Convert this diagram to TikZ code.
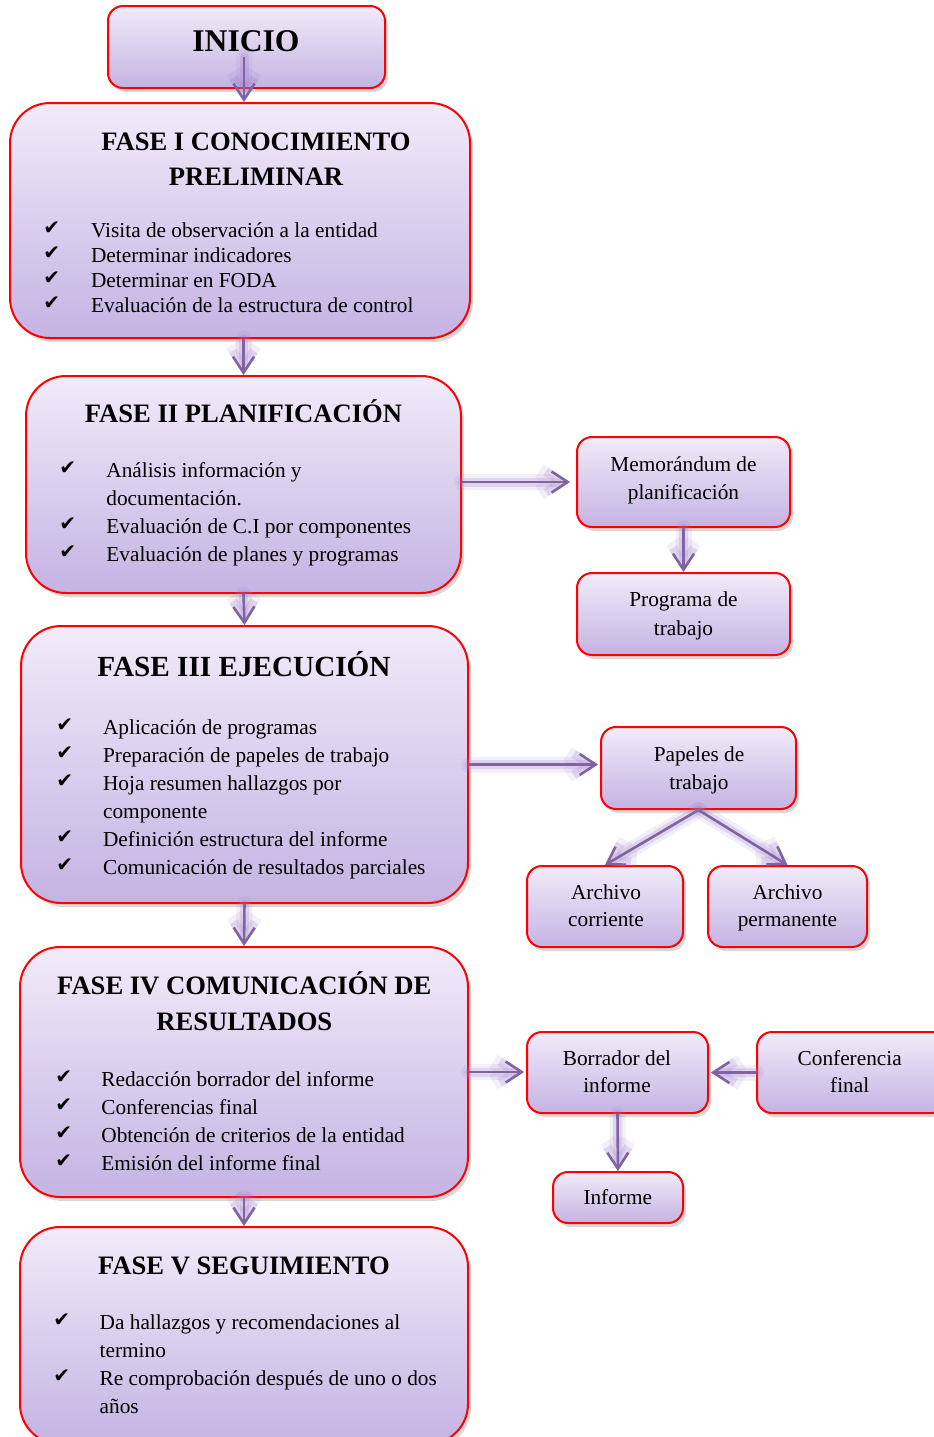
\documentclass[tikz,border=0pt]{standalone}
\usepackage{fontspec}
\setmainfont{Liberation Serif}
\newfontfamily\dvs{DejaVu Sans}
\usetikzlibrary{arrows.meta,shadows,calc,fit}
\definecolor{boxtop}{RGB}{241,235,249}
\definecolor{boxbot}{RGB}{197,179,227}
\definecolor{arrc}{RGB}{128,100,162}
\definecolor{glowc}{RGB}{160,125,205}
\begin{document}
\begin{tikzpicture}[x=0.5pt,y=-0.5pt,
  boxbase/.style={draw=red, line width=1pt, top color=boxtop, bottom color=boxbot, inner sep=0pt,
    drop shadow={opacity=0.3, shadow xshift=1.5pt, shadow yshift=-2pt}},
  bigbox/.style={boxbase, rounded corners=20pt},
  smallbox/.style={boxbase, rounded corners=7.5pt},
  txt/.style={inner sep=0pt, font=\fontsize{10.65pt}{12.8pt}\selectfont},
  ttl/.style={inner sep=0pt, font=\bfseries\fontsize{13.3pt}{16pt}\selectfont},
  chk/.style={inner sep=0pt, yshift=1.5pt, font=\dvs\fontsize{10pt}{11pt}\selectfont},
  conn/.style={draw=arrc, line width=1.3pt, line join=round, -{Straight Barb[length=8pt,width=10.5pt]},
    preaction={draw=glowc, line width=8pt, opacity=0.12, line cap=round, line join=round},
    preaction={draw=glowc, line width=4.5pt, opacity=0.22, line cap=round, line join=round}}
]
\useasboundingbox (0,0) rectangle (933,1437);
\fill[white] (0,0) rectangle (933,1437);

% ---------- boxes ----------
\node[smallbox, fit={(108,6)(385,88)}] (inicio) {};
\node[bigbox, fit={(10,103)(470,338)}] (f1) {};
\node[bigbox, fit={(26,376)(461,593)}] (f2) {};
\node[bigbox, fit={(21,626)(468,903)}] (f3) {};
\node[bigbox, fit={(20,947)(468,1197)}] (f4) {};
\node[bigbox, fit={(20,1227)(468,1444)}] (f5) {};

\node[smallbox, fit={(577,437)(790,527)}] (memo) {};
\node[smallbox, fit={(577,573)(790,655)}] (prog) {};
\node[smallbox, fit={(601,727)(796,809)}] (pap) {};
\node[smallbox, fit={(527,866)(683,947)}] (arc1) {};
\node[smallbox, fit={(708,866)(867,947)}] (arc2) {};
\node[smallbox, fit={(527,1032)(708,1113)}] (borr) {};
\node[smallbox, fit={(757,1032)(947,1113)}] (conf) {};
\node[smallbox, fit={(553,1172)(683,1223)}] (inf) {};

% ---------- titles ----------
\node[ttl, font=\bfseries\fontsize{15.8pt}{18pt}\selectfont, anchor=base] (tIni) at (246,51) {INICIO};
\node[ttl, anchor=base] (t1a) at (256,150) {FASE I CONOCIMIENTO};
\node[ttl, anchor=base] (t1b) at (256,185) {PRELIMINAR};
\node[ttl, anchor=base] (t2) at (243.5,422.3) {FASE II PLANIFICACIÓN};
\node[ttl, font=\bfseries\fontsize{14.6pt}{17pt}\selectfont, anchor=base] (t3) at (244,676.7) {FASE III EJECUCIÓN};
\node[ttl, anchor=base] (t4a) at (244.3,994.3) {FASE IV COMUNICACIÓN DE};
\node[ttl, anchor=base] (t4b) at (244.3,1030) {RESULTADOS};
\node[ttl, anchor=base] (t5) at (244,1274) {FASE V SEGUIMIENTO};

% ---------- FASE I items ----------
\node[chk, anchor=base west] (c1a) at (43,237) {✔};
\node[chk, anchor=base west] (c1b) at (43,262) {✔};
\node[chk, anchor=base west] (c1c) at (43,287) {✔};
\node[chk, anchor=base west] (c1d) at (43,312.7) {✔};
\node[txt, anchor=base west] (i1a) at (90.7,237) {Visita de observación a la entidad};
\node[txt, anchor=base west] (i1b) at (90.7,262) {Determinar indicadores};
\node[txt, anchor=base west] (i1c) at (90.7,287) {Determinar en FODA};
\node[txt, anchor=base west] (i1d) at (90.7,312.7) {Evaluación de la estructura de control};

% ---------- FASE II items ----------
\node[chk, anchor=base west] (c2a) at (59,477.3) {✔};
\node[chk, anchor=base west] (c2c) at (59,533.3) {✔};
\node[chk, anchor=base west] (c2d) at (59,561.7) {✔};
\node[txt, anchor=base west] (i2a) at (106,477.3) {Análisis información y};
\node[txt, anchor=base west] (i2b) at (106,505) {documentación.};
\node[txt, anchor=base west] (i2c) at (106,533.3) {Evaluación de C.I por componentes};
\node[txt, anchor=base west] (i2d) at (106,561.7) {Evaluación de planes y programas};

% ---------- FASE III items ----------
\node[chk, anchor=base west] (c3a) at (56,734) {✔};
\node[chk, anchor=base west] (c3b) at (56,762.3) {✔};
\node[chk, anchor=base west] (c3c) at (56,790.7) {✔};
\node[chk, anchor=base west] (c3e) at (56,846) {✔};
\node[chk, anchor=base west] (c3f) at (56,874.3) {✔};
\node[txt, anchor=base west] (i3a) at (102.7,734) {Aplicación de programas};
\node[txt, anchor=base west] (i3b) at (102.7,762.3) {Preparación de papeles de trabajo};
\node[txt, anchor=base west] (i3c) at (102.7,790.7) {Hoja resumen hallazgos por};
\node[txt, anchor=base west] (i3d) at (102.7,818.3) {componente};
\node[txt, anchor=base west] (i3e) at (102.7,846) {Definición estructura del informe};
\node[txt, anchor=base west] (i3f) at (102.7,874.3) {Comunicación de resultados parciales};

% ---------- FASE IV items ----------
\node[chk, anchor=base west] (c4a) at (55,1086) {✔};
\node[chk, anchor=base west] (c4b) at (55,1114) {✔};
\node[chk, anchor=base west] (c4c) at (55,1142.7) {✔};
\node[chk, anchor=base west] (c4d) at (55,1170.7) {✔};
\node[txt, anchor=base west] (i4a) at (101,1086) {Redacción borrador del informe};
\node[txt, anchor=base west] (i4b) at (101,1114) {Conferencias final};
\node[txt, anchor=base west] (i4c) at (101,1142.7) {Obtención de criterios de la entidad};
\node[txt, anchor=base west] (i4d) at (101,1170.7) {Emisión del informe final};

% ---------- FASE V items ----------
\node[chk, anchor=base west] (c5a) at (53,1329.3) {✔};
\node[chk, anchor=base west] (c5c) at (53,1385) {✔};
\node[txt, anchor=base west] (i5a) at (99.3,1329.3) {Da hallazgos y recomendaciones al};
\node[txt, anchor=base west] (i5b) at (99.3,1357.3) {termino};
\node[txt, anchor=base west] (i5c) at (99.3,1385) {Re comprobación después de uno o dos};
\node[txt, anchor=base west] (i5d) at (99.3,1413.3) {años};

% ---------- small box texts ----------
\node[txt, anchor=base] (m1) at (683.5,471) {Memorándum de};
\node[txt, anchor=base] (m2) at (683.5,499) {planificación};
\node[txt, anchor=base] (p1) at (683.5,606.7) {Programa de};
\node[txt, anchor=base] (p2) at (683.5,635) {trabajo};
\node[txt, anchor=base] (pa1) at (699,761.7) {Papeles de};
\node[txt, anchor=base] (pa2) at (699,789) {trabajo};
\node[txt, anchor=base] (a11) at (606,899) {Archivo};
\node[txt, anchor=base] (a12) at (606,926.7) {corriente};
\node[txt, anchor=base] (a21) at (787.5,899) {Archivo};
\node[txt, anchor=base] (a22) at (787.5,926.7) {permanente};
\node[txt, anchor=base] (b1) at (617,1065.7) {Borrador del};
\node[txt, anchor=base] (b2) at (617,1092.7) {informe};
\node[txt, anchor=base] (cf1) at (849.7,1065.7) {Conferencia};
\node[txt, anchor=base] (cf2) at (849.7,1092.7) {final};
\node[txt, anchor=base] (in1) at (617.8,1204) {Informe};

% ---------- connectors ----------
\coordinate (s0) at ($(inicio.center)+(-2.5,10)$);
\draw[conn] (s0) -- (s0 |- f1.north);
\draw[conn] (f2.north |- f1.south) -- (f2.north);
\draw[conn] (f2.south) -- (f3.north);
\draw[conn] (f3.south) -- (f4.north);
\draw[conn] (f4.south) -- (f5.north);
\coordinate (e1) at ($(memo.west)+(-6,0)$);
\draw[conn] (memo.west -| f2.east) -- (e1);
\draw[conn] (memo.south) -- (prog.north);
\coordinate (e2) at ($(f3.east -| pap.west)+(-2,0)$);
\draw[conn] (f3.east) -- (e2);
\draw[conn] (pap.south) -- (arc1.north);
\draw[conn] (pap.south) -- (arc2.north);
\coordinate (e3) at ($(f4.east -| borr.west)+(-2,0)$);
\draw[conn] (f4.east) -- (e3);
\coordinate (e4) at ($(borr.east)+(2,0)$);
\draw[conn] (conf.west) -- (e4);
\draw[conn] (borr.south) -- (inf.north);
\end{tikzpicture}
\end{document}
